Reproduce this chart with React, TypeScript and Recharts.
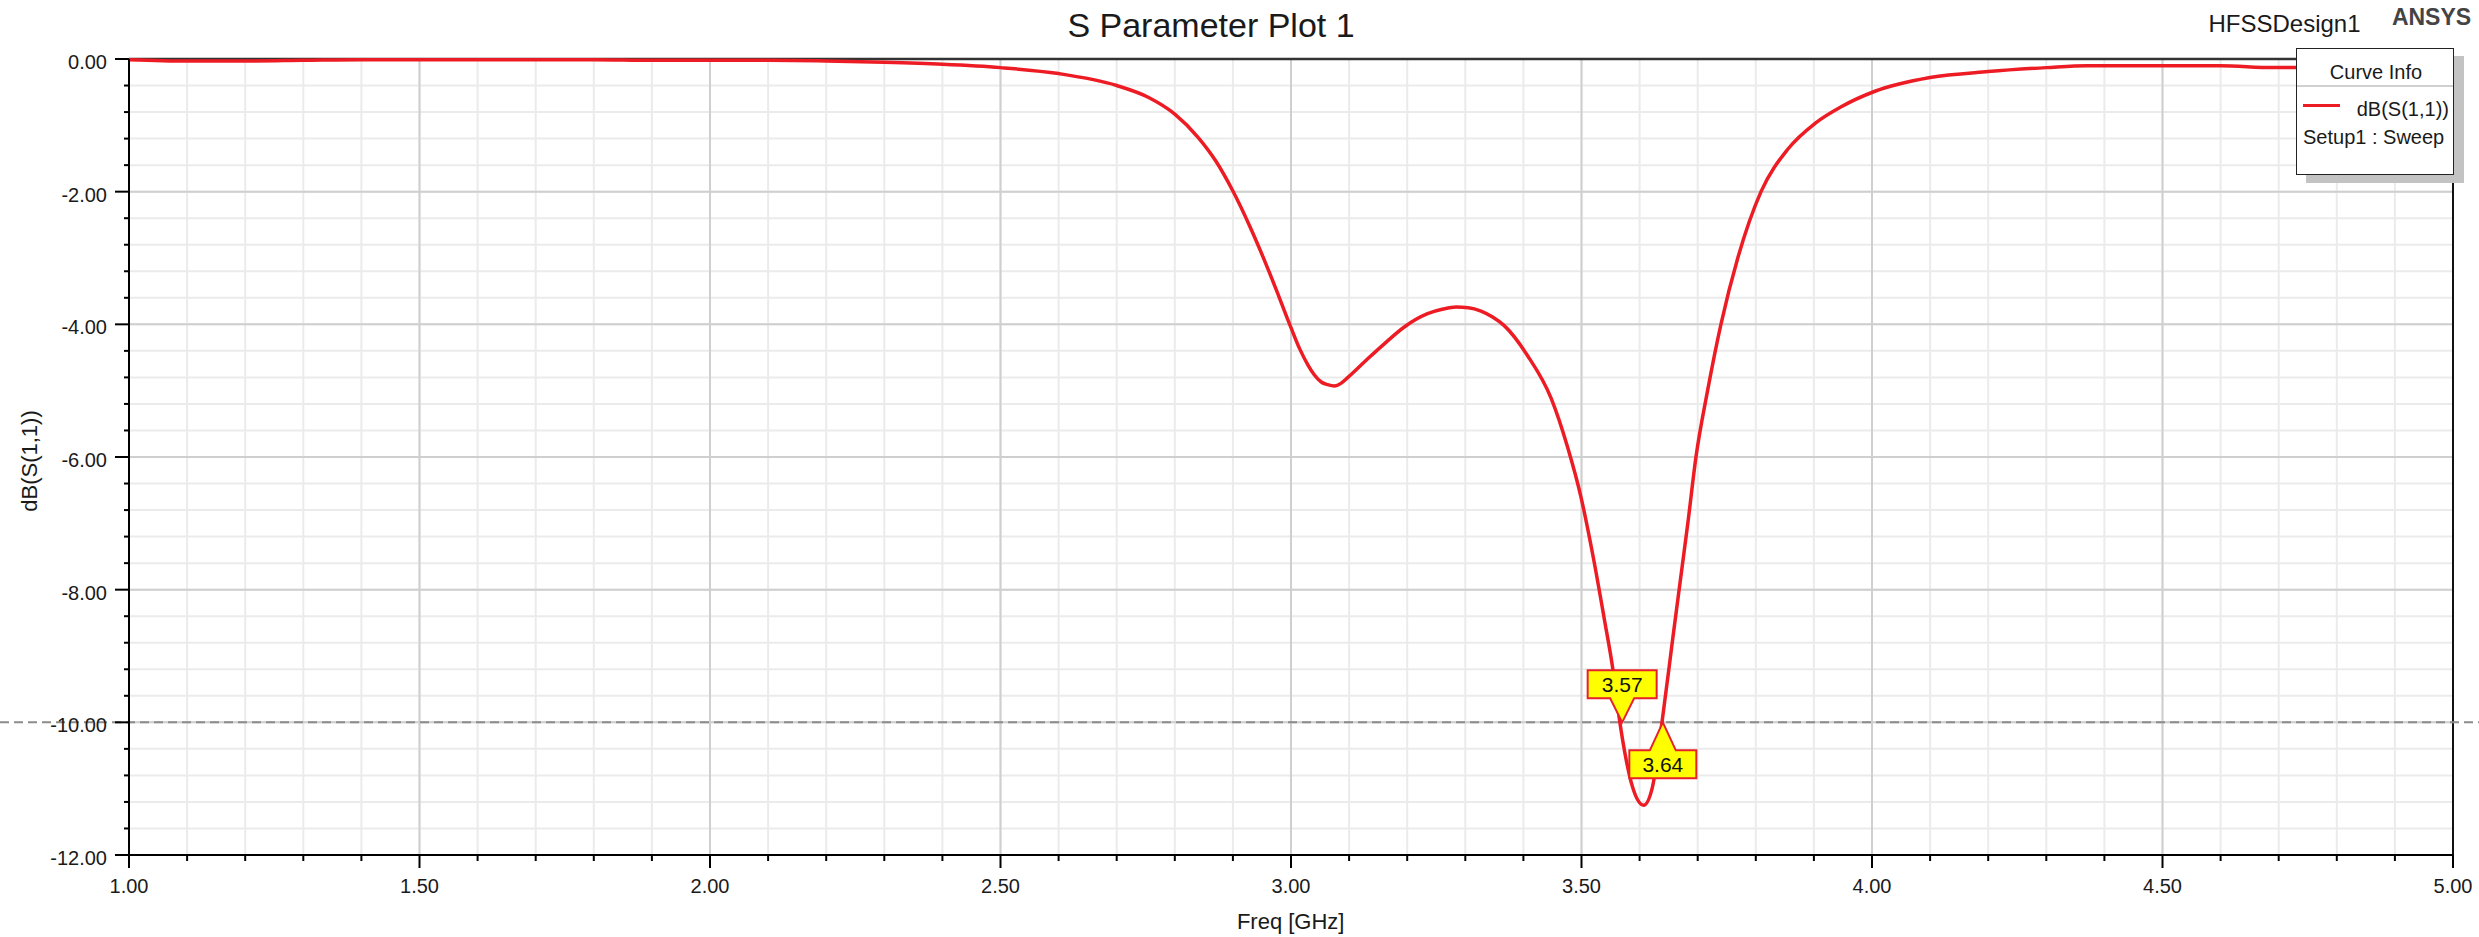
import React from "react"
import {
  LineChart,
  Line,
  XAxis,
  YAxis,
  CartesianGrid,
  ReferenceLine,
  ReferenceDot,
} from "recharts"

// S11 sweep (GHz / dB)
const freqGHz = [
  1.0, 1.1, 1.2, 1.3, 1.4, 1.5, 1.6, 1.7, 1.8, 1.9, 2.0, 2.1, 2.2, 2.3, 2.4, 2.5,
  2.6, 2.7, 2.755, 2.8, 2.84, 2.87, 2.9, 2.93, 2.955, 2.98, 3.0, 3.015, 3.029,
  3.04, 3.052, 3.063, 3.075, 3.086, 3.098, 3.132, 3.161, 3.195, 3.235, 3.262,
  3.284, 3.305, 3.327, 3.347, 3.367, 3.407, 3.448, 3.476, 3.499, 3.52, 3.539,
  3.554, 3.565, 3.577, 3.588, 3.607, 3.622, 3.639, 3.657, 3.668, 3.683, 3.697,
  3.717, 3.74, 3.769, 3.809, 3.855, 3.902, 3.947, 4.004, 4.1, 4.2, 4.3, 4.37,
  4.5, 4.6, 4.69, 4.8, 4.9, 5.0,
]
const s11dB = [
  -0.01, -0.03, -0.03, -0.02, -0.01, -0.01, -0.01, -0.01, -0.01, -0.02, -0.02,
  -0.02, -0.03, -0.05, -0.08, -0.13, -0.22, -0.4, -0.58, -0.83, -1.18, -1.53,
  -1.99, -2.54, -3.05, -3.6, -4.05, -4.37, -4.61, -4.76, -4.87, -4.91, -4.93,
  -4.89, -4.8, -4.52, -4.29, -4.04, -3.84, -3.77, -3.74, -3.75, -3.8, -3.89,
  -4.02, -4.47, -5.12, -5.85, -6.6, -7.5, -8.43, -9.2, -9.94, -10.57, -10.98,
  -11.25, -10.98, -9.97, -8.74, -8.0, -7.0, -6.0, -5.0, -4.0, -3.0, -2.0, -1.36,
  -0.97, -0.72, -0.49, -0.28, -0.19, -0.13, -0.1, -0.1, -0.1, -0.13, -0.13,
  -0.13, -0.13,
]

// markers where the curve crosses -10 dB
const markerFreqs = [3.57, 3.64]
const markerLevel = -10

const xMajor = [1.0, 1.5, 2.0, 2.5, 3.0, 3.5, 4.0, 4.5, 5.0]
const yMajor = [0, -2, -4, -6, -8, -10, -12]
// minor grid: 0.1 GHz and 0.4 dB
const xTicks = Array.from({ length: 41 }, (_, i) => +(1 + i * 0.1).toFixed(1))
const yTicks = Array.from({ length: 31 }, (_, i) => +(-i * 0.4).toFixed(1))

const data = freqGHz.map((f, i) => ({ freq: f, s11: s11dB[i] }))

const FONT = '"Liberation Sans", Arial, sans-serif'
const RED = "#ed1c24"

const isMajor = (list: number[], v: number) =>
  list.some((m) => Math.abs(m - v) < 1e-6)

function XTick(props: any) {
  const { x, y, payload } = props
  const major = isMajor(xMajor, payload.value)
  return (
    <g>
      <line x1={x} x2={x} y1={y} y2={y + (major ? 13 : 6)} stroke="#000" strokeWidth={2} />
      {major && (
        <text x={x} y={y + 38} textAnchor="middle" fontSize={20} fontFamily={FONT} fill="#1a1a1a">
          {payload.value.toFixed(2)}
        </text>
      )}
    </g>
  )
}

function YTick(props: any) {
  const { x, y, payload } = props
  const major = isMajor(yMajor, payload.value)
  return (
    <g>
      <line x1={x - (major ? 14 : 5)} x2={x} y1={y} y2={y} stroke="#000" strokeWidth={2} />
      {major && (
        <text x={x - 22} y={y + 10} textAnchor="end" fontSize={20} fontFamily={FONT} fill="#1a1a1a">
          {payload.value.toFixed(2)}
        </text>
      )}
    </g>
  )
}

// yellow HFSS marker flag, above or below the point
function markerShape(label: string, above: boolean) {
  return (props: any) => {
    const { cx, cy } = props
    const w = above ? 69 : 67
    const h = 28
    const half = above ? 12 : 13
    const l = cx - w / 2
    const r = cx + w / 2
    let d: string
    let ty: number
    if (above) {
      const b = cy - 24
      const t = b - h
      d = `M${l},${t} L${r},${t} L${r},${b} L${cx + half},${b} L${cx},${cy} L${cx - half},${b} L${l},${b} Z`
      ty = t + h / 2
    } else {
      const t = cy + 28
      const b = t + h
      d = `M${l},${t} L${cx - half},${t} L${cx},${cy} L${cx + half},${t} L${r},${t} L${r},${b} L${l},${b} Z`
      ty = t + h / 2
    }
    return (
      <g>
        <path d={d} fill="#ffff00" stroke="#e8202a" strokeWidth={2} />
        <text x={cx} y={ty + 7.5} textAnchor="middle" fontSize={21} fontFamily={FONT} fill="#111">
          {label}
        </text>
      </g>
    )
  }
}

const centered = (cx: number, cy: number, extra: React.CSSProperties = {}): React.CSSProperties => ({
  position: "absolute",
  left: cx,
  top: cy,
  transform: "translate(-50%, -50%)",
  whiteSpace: "nowrap",
  lineHeight: 1,
  fontFamily: FONT,
  color: "#1a1a1a",
  ...extra,
})

export default function App() {
  return (
    <div style={{ position: "absolute", left: 0, top: 0, width: 2479, height: 937, background: "#fff" }}>
      <LineChart
        width={2479}
        height={937}
        data={data}
        margin={{ top: 59, right: 26, bottom: 0, left: 0 }}
      >
        <CartesianGrid stroke="#ebebeb" strokeWidth={2} />
        <XAxis
          type="number"
          dataKey="freq"
          domain={[1, 5]}
          ticks={xTicks}
          interval={0}
          height={82}
          tickSize={0}
          tickMargin={0}
          tickLine={false}
          tick={<XTick />}
          axisLine={{ stroke: "#000", strokeWidth: 2 }}
        />
        <YAxis
          type="number"
          domain={[-12, 0]}
          ticks={yTicks}
          interval={0}
          width={129}
          tickSize={0}
          tickMargin={0}
          tickLine={false}
          tick={<YTick />}
          axisLine={{ stroke: "#000", strokeWidth: 2 }}
        />
        {xMajor.slice(1, -1).map((v) => (
          <ReferenceLine key={"x" + v} x={v} stroke="#cfcfcf" strokeWidth={2} />
        ))}
        {yMajor.slice(1, -1).map((v) => (
          <ReferenceLine key={"y" + v} y={v} stroke="#cfcfcf" strokeWidth={2} />
        ))}
        <ReferenceLine y={0} stroke="#333" strokeWidth={2.5} />
        <ReferenceLine x={5} stroke="#111" strokeWidth={2} />
        <ReferenceLine
          y={markerLevel}
          shape={(p: any) => (
            <line x1={0} x2={2479} y1={p.y1} y2={p.y2} stroke="#8c8c8c" strokeWidth={2} strokeDasharray="9 5" />
          )}
        />
        <Line
          type="monotone"
          dataKey="s11"
          stroke={RED}
          strokeWidth={3.5}
          dot={false}
          activeDot={false}
          isAnimationActive={false}
        />
        {markerFreqs.map((f, i) => (
          <ReferenceDot
            key={f}
            x={f}
            y={markerLevel}
            r={0}
            shape={markerShape(f.toFixed(2), i === 0)}
          />
        ))}
      </LineChart>

      <div style={centered(1211, 24.5, { fontSize: 34 })}>S Parameter Plot 1</div>
      <div style={centered(2284.5, 23.5, { fontSize: 24 })}>HFSSDesign1</div>
      <div style={centered(2431.5, 17, { fontSize: 23, fontWeight: "bold", color: "#444" })}>ANSYS</div>
      <div style={centered(1290.7, 922, { fontSize: 22 })}>Freq [GHz]</div>
      <div style={centered(30, 461, { fontSize: 22, transform: "translate(-50%, -50%) rotate(-90deg)" })}>
        dB(S(1,1))
      </div>

      {/* Curve Info box */}
      <div
        style={{
          position: "absolute",
          left: 2296,
          top: 48,
          width: 156,
          height: 125,
          border: "1.5px solid #222",
          background: "#fff",
          boxShadow: "10px 8px 0 #c3c3c3",
          fontFamily: FONT,
          color: "#1a1a1a",
        }}
      >
        <div style={centered(79, 23, { fontSize: 20 })}>Curve Info</div>
        <div style={{ position: "absolute", left: 0, right: 0, top: 36, height: 1.5, background: "#d0d0d0" }} />
        <div style={{ position: "absolute", left: 6, width: 37, top: 54.5, height: 3, background: RED }} />
        <div style={{ position: "absolute", right: 4, top: 60, transform: "translateY(-50%)", fontSize: 20, lineHeight: 1, whiteSpace: "nowrap" }}>
          dB(S(1,1))
        </div>
        <div style={{ position: "absolute", left: 6, top: 88, transform: "translateY(-50%)", fontSize: 20, lineHeight: 1, whiteSpace: "nowrap" }}>
          Setup1 : Sweep
        </div>
      </div>
    </div>
  )
}
